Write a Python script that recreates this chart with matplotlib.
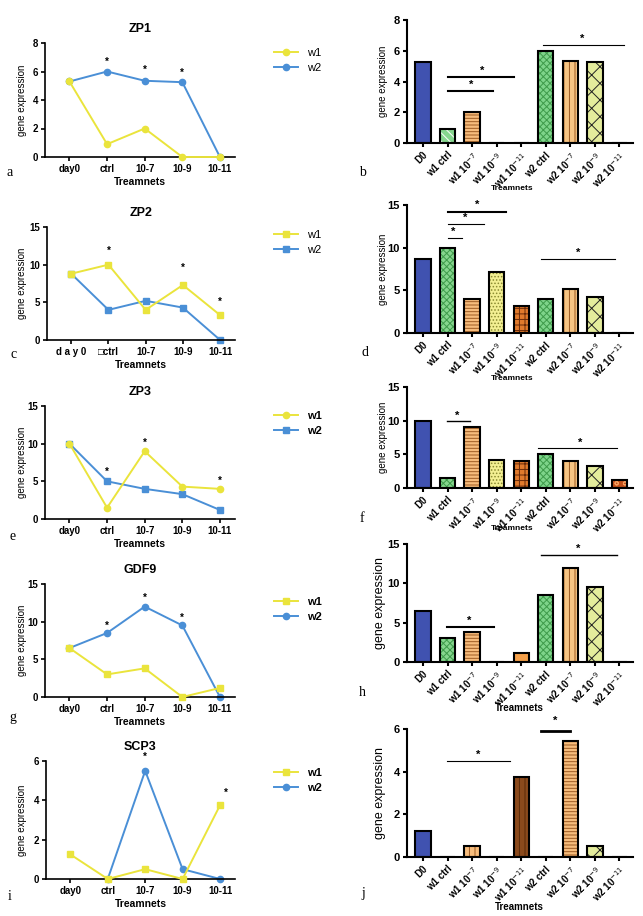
import numpy as np
import matplotlib
matplotlib.use('Agg')
from matplotlib import pyplot as plt

W, H = 643, 916

# ---- data ----
days = ['day0', 'ctrl', '10-7', '10-9', '10-11']
days_zp2 = ['d a y 0', '\u25a1ctrl', '10-7', '10-9', '10-11']
groups = ['D0', 'w1 ctrl', 'w1 10$^{-7}$', 'w1 10$^{-9}$', 'w1 10$^{-11}$',
          'w2 ctrl', 'w2 10$^{-7}$', 'w2 10$^{-9}$', 'w2 10$^{-11}$']

zp1_w1 = [5.3, 0.9, 2.0, 0, 0]
zp1_w2 = [5.3, 6.0, 5.35, 5.25, 0]
zp1_stars = [(1, 6.7), (2, 6.1), (3, 5.9)]
zp1_bars = [5.3, 0.9, 2.0, 0, 0, 6.0, 5.35, 5.25, 0]
zp1_sig = [(1, 2.86, 3.4, 1.95, 3.8, 1.5), (1, 3.7, 4.3, 2.4, 4.7, 1.5),
           (4.9, 8.2, 6.4, 6.5, 6.8, 0.8)]

zp2_w1 = [8.8, 10.0, 4.0, 7.3, 3.3]
zp2_w2 = [8.8, 4.0, 5.2, 4.3, 0]
zp2_stars = [(1, 11.8), (3, 9.6), (4, 5.0)]
zp2_bars = [8.7, 10.0, 4.0, 7.2, 3.2, 4.0, 5.2, 4.2, 0]
zp2_sig = [(1, 1.6, 11.1, 1.25, 11.8, 0.8), (1, 2.5, 12.8, 1.7, 13.5, 0.8),
           (1, 3.4, 14.2, 2.2, 15.0, 1.5), (4.8, 7.8, 8.7, 6.3, 9.4, 0.8)]

zp3_w1 = [10.0, 1.5, 9.0, 4.3, 4.0]
zp3_w2 = [10.0, 5.0, 4.0, 3.3, 1.2]
zp3_stars = [(1, 6.2), (2, 10.1), (4, 5.0)]
zp3_bars = [10.0, 1.5, 9.0, 4.2, 4.0, 5.0, 4.0, 3.3, 1.2]
zp3_sig = [(0.98, 1.9, 9.95, 1.4, 10.7, 1.0), (4.7, 7.9, 5.9, 6.4, 6.7, 0.8)]

gdf9_w1 = [6.5, 3.0, 3.8, 0, 1.2]
gdf9_w2 = [6.5, 8.5, 12.0, 9.5, 0]
gdf9_stars = [(1, 9.4), (2, 13.1), (3, 10.5)]
gdf9_bars = [6.5, 3.0, 3.8, 0, 1.2, 8.5, 12.0, 9.5, 0]
gdf9_sig = [(0.98, 2.9, 4.45, 1.9, 5.2, 1.5), (4.8, 7.9, 13.6, 6.3, 14.4, 1.0)]

scp3_w1 = [1.25, 0, 0.5, 0, 3.75]
scp3_w2 = [np.nan, 0, 5.5, 0.5, 0]
scp3_stars = [(2, 6.2), (4.15, 4.4)]
scp3_bars = [1.2, 0, 0.5, 0, 3.75, 0, 5.45, 0.5, 0]
scp3_sig = [(0.98, 3.55, 4.5, 2.25, 4.8, 0.8), (4.8, 6.0, 5.9, 5.4, 6.4, 2.0)]

plt.rcParams['font.family'] = ['Liberation Sans', 'DejaVu Sans']
plt.rcParams['hatch.linewidth'] = 0.7

YEL = '#EAE43C'
BLU = '#4A8FD6'

fig = plt.figure(figsize=(W / 100, H / 100), dpi=100)


def box(l, t, r, b):
    return fig.add_axes([l / W, 1 - b / H, (r - l) / W, (b - t) / H])


def ftxt(x, y, s, **kw):
    kw.setdefault('ha', 'center')
    kw.setdefault('va', 'center')
    fig.text(x / W, 1 - y / H, s, **kw)


def style(ax, lw=1.2):
    for s in ['top', 'right']:
        ax.spines[s].set_visible(False)
    for s in ['left', 'bottom']:
        ax.spines[s].set_linewidth(lw)
    ax.tick_params(width=lw, length=3, labelsize=7, pad=2)
    for t in ax.get_yticklabels():
        t.set_fontweight('bold')


def line_panel(pos, title, w1, w2, stars, ylim, yticks, m1, m2, leg_y, labels=days, bold_leg=False):
    ax = box(*pos)
    x = np.arange(len(labels))
    ax.plot(x, w1, color=YEL, marker=m1, ms=4.5, lw=1.4, label='w1', clip_on=False, zorder=3)
    ax.plot(x, w2, color=BLU, marker=m2, ms=4.5, lw=1.4, label='w2', clip_on=False, zorder=2)
    ax.set_xlim(-0.65, 4.4)
    ax.set_ylim(*ylim)
    ax.set_yticks(yticks)
    ax.set_xticks(x)
    ax.set_xticklabels(labels, fontweight='bold')
    style(ax)
    for sx, sy in stars:
        ax.text(sx, sy, '*', ha='center', va='center', fontsize=7, fontweight='bold')
    ax.set_title(title, fontsize=9, fontweight='bold', pad=8)
    ax.legend(loc='upper left', bbox_to_anchor=(268 / W, 1 - leg_y / H),
              bbox_transform=fig.transFigure, frameon=False,
              handlelength=2.2, borderpad=0, labelspacing=0.5,
              prop={'weight': 'bold' if bold_leg else 'normal', 'size': 8})
    l, t, r, b = pos
    ftxt(22, (t + b) / 2, 'gene expression', rotation=90, fontsize=7)
    ftxt((l + r) / 2, b + 25, 'Treamnets', fontsize=7.5, fontweight='bold')
    return ax


BASE = [('#4052B0', '', None),
        ('#86D68E', 'xxxxx', '#3E9A4A'),
        ('#F6BC7C', '-----', '#9C5A22'),
        ('#F3EF92', '.....', '#8A8A30'),
        ('#E07A2C', '+++', '#6A2A08'),
        ('#7ED48A', 'xxxxx', '#3E9A4A'),
        ('#F6C483', '|||', '#9C5A22'),
        ('#E4EC9C', 'xx', '#222222'),
        ('#C4501A', 'oo', '#F6A060')]


def bar_panel(pos, vals, sig, ylim, yticks, over=None, big=False, xl_y=None):
    ax = box(*pos)
    x = np.arange(len(groups))
    sty = list(BASE)
    if over:
        for k, v in over.items():
            sty[k] = v
    for i, v in enumerate(vals):
        fc, h, hc = sty[i]
        ax.bar(x[i], v, width=0.62, color=fc, hatch=h or None,
               edgecolor=hc if hc else fc, linewidth=0, zorder=2)
    ax.bar(x, vals, width=0.62, fill=False, edgecolor='black', linewidth=1.5, zorder=3)
    ax.set_xlim(-0.65, 8.55)
    ax.set_ylim(*ylim)
    ax.set_yticks(yticks)
    ax.set_xticks(x)
    ax.set_xticklabels(groups, rotation=45, ha='right', rotation_mode='anchor',
                       fontweight='bold', fontsize=6.2)
    style(ax, lw=1.5)
    ax.tick_params(axis='y', labelsize=8)
    for x0, x1, y, sx, sy, lw in sig:
        ax.plot([x0, x1], [y, y], color='black', lw=lw, clip_on=False)
        ax.text(sx, sy, '*', ha='center', va='center', fontsize=8, fontweight='bold', clip_on=False)
    l, t, r, b = pos
    ftxt(l - 24 if not big else l - 27, (t + b) / 2, 'gene expression', rotation=90,
         fontsize=9 if big else 7)
    ftxt(512 if not big else 519, xl_y, 'Treamnets', fontsize=7 if big else 6, fontweight='bold')
    return ax


line_panel((45, 43, 235, 157), 'ZP1', zp1_w1, zp1_w2, zp1_stars, (0, 8), [0, 2, 4, 6, 8], 'o', 'o', 42)
line_panel((47, 227, 235, 340), 'ZP2', zp2_w1, zp2_w2, zp2_stars, (0, 15), [0, 5, 10, 15], 's', 's', 224,
           labels=days_zp2)
line_panel((45, 406, 235, 519), 'ZP3', zp3_w1, zp3_w2, zp3_stars, (0, 15), [0, 5, 10, 15], 'o', 's', 405,
           bold_leg=True)
line_panel((45, 584, 235, 697), 'GDF9', gdf9_w1, gdf9_w2, gdf9_stars, (0, 15), [0, 5, 10, 15], 's', 'o', 591,
           bold_leg=True)
line_panel((46, 761, 235, 879), 'SCP3', scp3_w1, scp3_w2, scp3_stars, (0, 6), [0, 2, 4, 6], 's', 'o', 762,
           bold_leg=True)

bar_panel((407, 20, 633, 143), zp1_bars, zp1_sig, (0, 8), [0, 2, 4, 6, 8],
          over={1: ('#86D68E', '\\\\\\\\', 'white')}, xl_y=189)
bar_panel((407, 205, 633, 333), zp2_bars, zp2_sig, (0, 15), [0, 5, 10, 15], xl_y=379)
bar_panel((407, 387, 633, 488), zp3_bars, zp3_sig, (0, 15), [0, 5, 10, 15], xl_y=528)
bar_panel((407, 544, 633, 662), gdf9_bars, gdf9_sig, (0, 15), [0, 5, 10, 15],
          over={4: ('#F5A04A', '', None)}, big=True, xl_y=708)
bar_panel((407, 729, 633, 857), scp3_bars, scp3_sig, (0, 6), [0, 2, 4, 6],
          over={2: ('#F6BC7C', '|||', '#9C5A22'), 4: ('#8B4A1C', '|||', '#5A2A08'),
                6: ('#F6BC7C', '-----', '#9C5A22')}, big=True, xl_y=907)

for s, x, y in [('a', 10, 173), ('c', 14, 355), ('e', 13, 537), ('g', 13, 718), ('i', 10, 897),
                ('b', 362, 173), ('d', 365, 353), ('f', 362, 518), ('h', 362, 692), ('j', 363, 893)]:
    ftxt(x, y, s, fontsize=10, family='Liberation Serif')

fig.savefig('out.png', dpi=100)
